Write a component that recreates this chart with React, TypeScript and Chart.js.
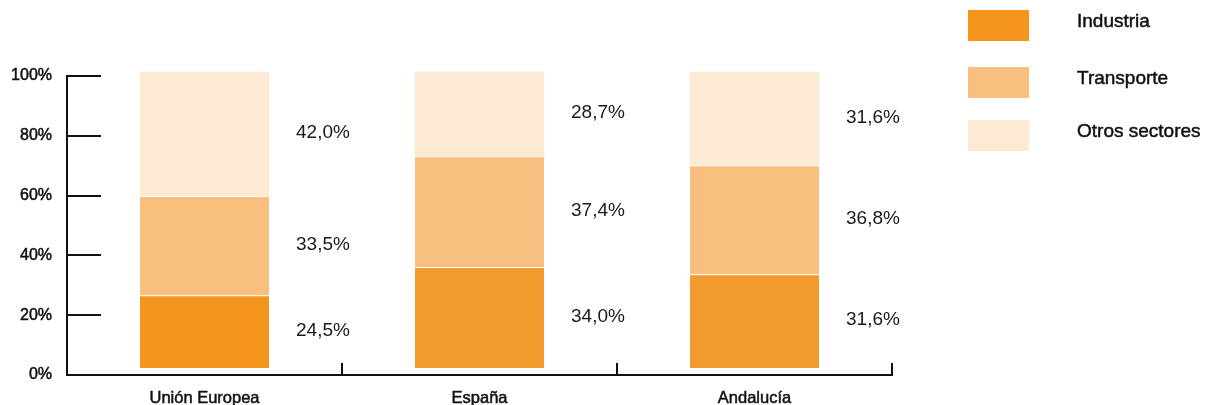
import React, { useEffect, useRef } from "react";
import { Chart, registerables } from "chart.js";

Chart.register(...registerables);

// Energy consumption share by sector
const categories = ["Unión Europea", "España", "Andalucía"];
const seriesNames = ["Industria", "Transporte", "Otros sectores"];
const industria = [24.5, 34.0, 31.6];
const transporte = [33.5, 37.4, 36.8];
const otros = [42.0, 28.7, 31.6];
const yTickValues = [0, 20, 40, 60, 80, 100];

const FONT = "'Liberation Sans', Arial, Helvetica, sans-serif";
const INK = "#111111";

const industriaColors = ["#F3941C", "#F19B2E", "#F19B2E"];
const transporteColor = "#F8BF7E";
const otrosColor = "#FDEAD4";
const legendColors = ["#F4951B", transporteColor, otrosColor];

const fmt = (v: number) => v.toFixed(1).replace(".", ",") + "%";

// Axis lines and inward tick marks
const axesPlugin = {
  id: "customAxes",
  afterDatasetsDraw(chart: any) {
    const { ctx, chartArea } = chart;
    const y = chart.scales.y;
    const x = chart.scales.x;
    ctx.save();
    ctx.strokeStyle = INK;
    ctx.lineWidth = 2;
    ctx.lineCap = "butt";
    const left = chartArea.left;
    const bottom = y.getPixelForValue(0);
    const top = y.getPixelForValue(100);
    ctx.beginPath();
    ctx.moveTo(left, top - 1);
    ctx.lineTo(left, bottom);
    ctx.lineTo(chartArea.right, bottom);
    ctx.stroke();
    yTickValues.forEach((v) => {
      if (v === 0) return;
      const py = Math.round(y.getPixelForValue(v));
      ctx.beginPath();
      ctx.moveTo(left, py);
      ctx.lineTo(left + 34, py);
      ctx.stroke();
    });
    const cw = x.width / categories.length;
    categories.forEach((_, i) => {
      const px = Math.round(x.getPixelForValue(i) + cw / 2);
      ctx.beginPath();
      ctx.moveTo(px, bottom + 1);
      ctx.lineTo(px, bottom - 12);
      ctx.stroke();
    });
    ctx.restore();
  },
};

// Percentage labels to the right of each segment
const valueLabelPlugin = {
  id: "valueLabels",
  afterDatasetsDraw(chart: any) {
    const { ctx } = chart;
    ctx.save();
    ctx.font = `19px ${FONT}`;
    ctx.fillStyle = "#1a1a1a";
    ctx.textAlign = "left";
    ctx.textBaseline = "middle";
    chart.data.datasets.forEach((ds: any, di: number) => {
      const meta = chart.getDatasetMeta(di);
      meta.data.forEach((el: any, i: number) => {
        const v = ds.data[i] as number;
        const xr = el.x + el.width / 2 + 27;
        const yc = (el.y + el.base) / 2 - 1;
        ctx.fillText(fmt(v), xr, yc);
      });
    });
    ctx.restore();
  },
};

// Legend on the right: swatch and name per series
const legendPlugin = {
  id: "sideLegend",
  afterDraw(chart: any) {
    const { ctx } = chart;
    const tops = [10, 67, 120];
    ctx.save();
    ctx.font = `19px ${FONT}`;
    ctx.textAlign = "left";
    ctx.textBaseline = "middle";
    ctx.lineWidth = 0.5;
    chart.data.datasets.forEach((ds: any, i: number) => {
      ctx.fillStyle = legendColors[i];
      ctx.fillRect(968, tops[i], 61, 31);
      ctx.fillStyle = INK;
      ctx.strokeStyle = INK;
      ctx.fillText(ds.label, 1077, tops[i] + 12);
      ctx.strokeText(ds.label, 1077, tops[i] + 12);
    });
    ctx.restore();
  },
};

export default function App() {
  const canvasRef = useRef<HTMLCanvasElement | null>(null);

  useEffect(() => {
    const canvas = canvasRef.current;
    if (!canvas) return;
    const chart = new Chart(canvas, {
      type: "bar",
      data: {
        labels: categories,
        datasets: [
          {
            label: seriesNames[0],
            data: industria,
            backgroundColor: industriaColors,
            borderColor: "#ffffff",
            borderWidth: { top: 1, left: 0, right: 0, bottom: 0 },
            borderSkipped: false,
            yAxisID: "yb",
            clip: false,
          },
          {
            label: seriesNames[1],
            data: transporte,
            backgroundColor: transporteColor,
            borderColor: "#ffffff",
            borderWidth: { top: 1, left: 0, right: 0, bottom: 0 },
            borderSkipped: false,
            yAxisID: "yb",
            clip: false,
          },
          {
            label: seriesNames[2],
            data: otros,
            backgroundColor: otrosColor,
            borderWidth: 0,
            yAxisID: "yb",
            clip: false,
          },
        ],
      },
      options: {
        responsive: false,
        animation: false,
        devicePixelRatio: 1,
        layout: { padding: { top: 76, right: 315, left: 0, bottom: 0 } },
        plugins: {
          legend: { display: false },
          tooltip: { enabled: false },
        },
        datasets: {
          bar: { barThickness: 129 },
        },
        scales: {
          x: {
            stacked: true,
            grid: { display: false, drawTicks: false },
            border: { display: false },
            ticks: {
              padding: 14,
              color: INK,
              font: { family: FONT, size: 16.5 },
              textStrokeColor: INK,
              textStrokeWidth: 0.5,
            },
            afterFit: (s: any) => {
              s.height = 30;
            },
          },
          y: {
            min: 0,
            max: 100,
            grid: { display: false, drawTicks: false },
            border: { display: false },
            afterBuildTicks: (s: any) => {
              s.ticks = yTickValues.map((v) => ({ value: v }));
            },
            ticks: {
              padding: 15,
              color: INK,
              font: { family: FONT, size: 16 },
              textStrokeColor: INK,
              textStrokeWidth: 0.5,
              callback: (v: any) => `${v}%`,
            },
            afterFit: (s: any) => {
              s.width = 67;
            },
          },
          yb: {
            display: false,
            stacked: true,
            min: -2.36,
            max: 98.65,
          },
        },
      },
      plugins: [axesPlugin, valueLabelPlugin, legendPlugin],
    });
    return () => chart.destroy();
  }, []);

  return (
    <div style={{ position: "fixed", left: 0, top: 0, width: 1207, height: 405, background: "#fff" }}>
      <canvas ref={canvasRef} width={1207} height={405} style={{ width: 1207, height: 405, display: "block" }} />
    </div>
  );
}
